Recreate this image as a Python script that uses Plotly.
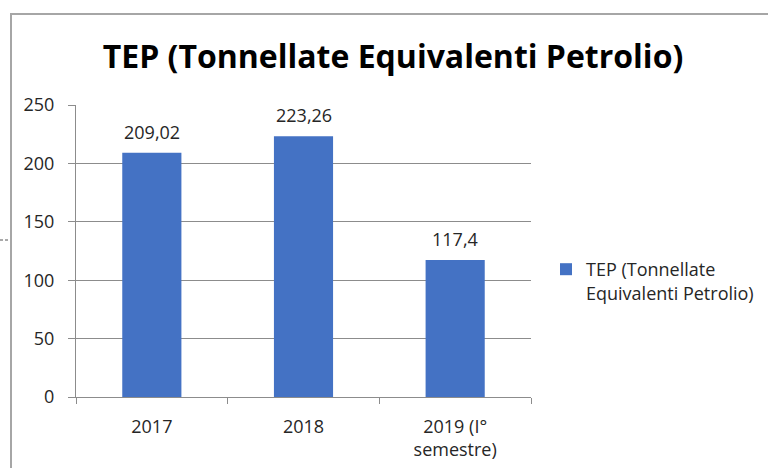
import plotly.graph_objects as go

categories = ["2017", "2018", "2019 (I°<br>semestre)"]
values = [209.02, 223.26, 117.4]
labels = ["209,02", "223,26", "117,4"]
series_name = "TEP (Tonnellate<br>Equivalenti Petrolio)"
title = "TEP (Tonnellate Equivalenti Petrolio)"
y_ticks = [0, 50, 100, 150, 200, 250]

W, H = 768, 468
L, R, T, B = 76, 237, 105, 71
pw, ph = W - L - R, H - T - B

def px_x(px):
    return (px - L) / pw

def px_y(py):
    return (H - B - py) / ph

txt = "#262626"
grid = "#8c8c8c"
font_main = "Open Sans"

fig = go.Figure()
fig.add_trace(go.Bar(
    x=categories, y=values, name=series_name,
    marker=dict(color="#4472C4", line=dict(width=0)),
    showlegend=True,
))

# data labels: positioned by category index (numeric-looking category names
# would otherwise be read as coordinates)
for i, (v, lab) in enumerate(zip(values, labels)):
    fig.add_annotation(x=i, y=v, text=lab, showarrow=False, yanchor="bottom",
                       yshift=7, font=dict(family=font_main, size=18, color=txt))

# chart area border (partially visible) and stray dashed mark
fig.add_shape(type="rect", xref="paper", yref="paper",
              x0=px_x(11), x1=px_x(900), y0=px_y(600), y1=px_y(14),
              line=dict(color="#a6a6a6", width=2), layer="below")
fig.add_shape(type="line", xref="paper", yref="paper",
              x0=px_x(0), x1=px_x(10), y0=px_y(240), y1=px_y(240),
              line=dict(color="#555555", width=1, dash="3px,2px"))

fig.update_layout(
    width=W, height=H,
    margin=dict(l=L, r=R, t=T, b=B, autoexpand=False),
    paper_bgcolor="white", plot_bgcolor="white",
    bargap=0.61,
    title=dict(text="<b>" + title + "</b>", x=393 / W, xanchor="center",
               y=1 - 57 / H, yanchor="middle",
               font=dict(family=font_main, size=32, color="#000000")),
    legend=dict(x=px_x(546), y=px_y(251), xanchor="left", yanchor="top",
                font=dict(family=font_main, size=18, color=txt),
                valign="top", itemwidth=30, bgcolor="rgba(0,0,0,0)"),
    font=dict(family=font_main, color=txt),
)

fig.update_yaxes(range=[0, 250], tickvals=y_ticks, ticktext=[str(t) for t in y_ticks],
                 showgrid=True, gridcolor=grid, gridwidth=1,
                 showline=True, linecolor=grid, linewidth=1,
                 ticks="outside", ticklen=7, tickcolor=grid,
                 ticklabelstandoff=10, zeroline=False,
                 tickfont=dict(family=font_main, size=18, color=txt))
fig.update_xaxes(type="category", categoryorder="array", categoryarray=categories,
                 range=[-0.5, len(categories) - 0.5],
                 showline=True, linecolor=grid, linewidth=1,
                 ticks="outside", ticklen=6, tickcolor=grid, tickson="boundaries",
                 ticklabelstandoff=13, tickangle=0,
                 tickfont=dict(family=font_main, size=18, color=txt))

fig.write_html("out.html")
